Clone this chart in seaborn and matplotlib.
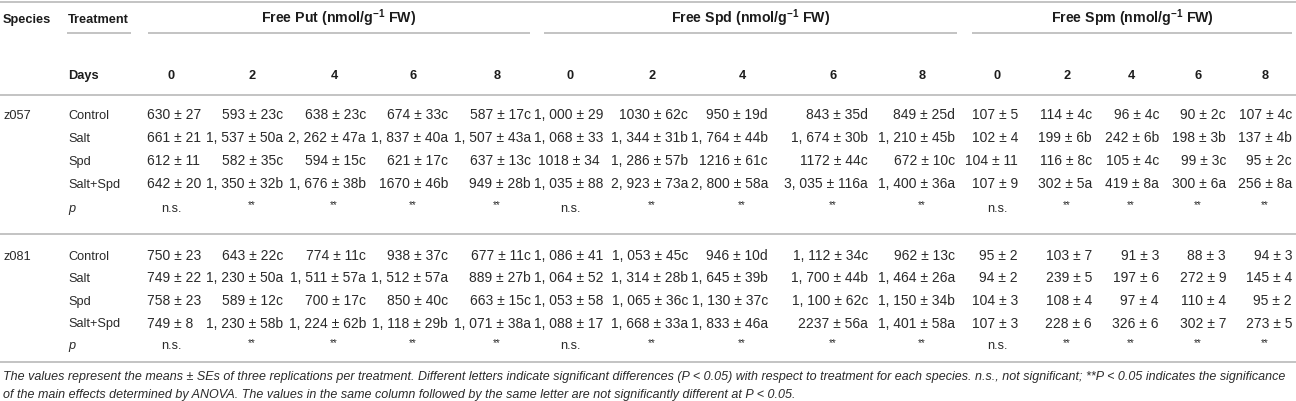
import matplotlib
matplotlib.use("Agg")
import matplotlib.pyplot as plt
import seaborn as sns
import pandas as pd

# ---------------- data ----------------
species = ["z057", "z081"]
treatments = ["Control", "Salt", "Spd", "Salt+Spd"]
days = ["0", "2", "4", "6", "8"]
groups = ["Free Put", "Free Spd", "Free Spm"]

z057_control = ["630 ± 27", "593 ± 23c", "638 ± 23c", "674 ± 33c", "587 ± 17c",
                "1,000 ± 29", "1030 ± 62c", "950 ± 19d", "843 ± 35d", "849 ± 25d",
                "107 ± 5", "114 ± 4c", "96 ± 4c", "90 ± 2c", "107 ± 4c"]
z057_salt = ["661 ± 21", "1,537 ± 50a", "2,262 ± 47a", "1,837 ± 40a", "1,507 ± 43a",
             "1,068 ± 33", "1,344 ± 31b", "1,764 ± 44b", "1,674 ± 30b", "1,210 ± 45b",
             "102 ± 4", "199 ± 6b", "242 ± 6b", "198 ± 3b", "137 ± 4b"]
z057_spd = ["612 ± 11", "582 ± 35c", "594 ± 15c", "621 ± 17c", "637 ± 13c",
            "1018 ± 34", "1,286 ± 57b", "1216 ± 61c", "1172 ± 44c", "672 ± 10c",
            "104 ± 11", "116 ± 8c", "105 ± 4c", "99 ± 3c", "95 ± 2c"]
z057_saltspd = ["642 ± 20", "1,350 ± 32b", "1,676 ± 38b", "1670 ± 46b", "949 ± 28b",
                "1,035 ± 88", "2,923 ± 73a", "2,800 ± 58a", "3,035 ± 116a", "1,400 ± 36a",
                "107 ± 9", "302 ± 5a", "419 ± 8a", "300 ± 6a", "256 ± 8a"]

z081_control = ["750 ± 23", "643 ± 22c", "774 ± 11c", "938 ± 37c", "677 ± 11c",
                "1,086 ± 41", "1,053 ± 45c", "946 ± 10d", "1,112 ± 34c", "962 ± 13c",
                "95 ± 2", "103 ± 7", "91 ± 3", "88 ± 3", "94 ± 3"]
z081_salt = ["749 ± 22", "1,230 ± 50a", "1,511 ± 57a", "1,512 ± 57a", "889 ± 27b",
             "1,064 ± 52", "1,314 ± 28b", "1,645 ± 39b", "1,700 ± 44b", "1,464 ± 26a",
             "94 ± 2", "239 ± 5", "197 ± 6", "272 ± 9", "145 ± 4"]
z081_spd = ["758 ± 23", "589 ± 12c", "700 ± 17c", "850 ± 40c", "663 ± 15c",
            "1,053 ± 58", "1,065 ± 36c", "1,130 ± 37c", "1,100 ± 62c", "1,150 ± 34b",
            "104 ± 3", "108 ± 4", "97 ± 4", "110 ± 4", "95 ± 2"]
z081_saltspd = ["749 ± 8", "1,230 ± 58b", "1,224 ± 62b", "1,118 ± 29b", "1,071 ± 38a",
                "1,088 ± 17", "1,668 ± 33a", "1,833 ± 46a", "2237 ± 56a", "1,401 ± 58a",
                "107 ± 3", "228 ± 6", "326 ± 6", "302 ± 7", "273 ± 5"]

p_z057 = ["n.s.", "**", "**", "**", "**"] * 3
p_z081 = ["n.s.", "**", "**", "**", "**"] * 3

footnote1 = ("The values represent the means ± SEs of three replications per treatment. "
             "Different letters indicate significant differences (P < 0.05) with respect to "
             "treatment for each species. n.s., not significant; **P < 0.05 indicates the significance")
footnote2 = ("of the main effects determined by ANOVA. The values in the same column followed "
             "by the same letter are not significantly different at P < 0.05.")

rows_by_species = {
    "z057": [z057_control, z057_salt, z057_spd, z057_saltspd, p_z057],
    "z081": [z081_control, z081_salt, z081_spd, z081_saltspd, p_z081],
}

# ---------------- style ----------------
sns.set_theme(style="white")
plt.rcParams["font.family"] = ["Liberation Sans", "DejaVu Sans"]
plt.rcParams["mathtext.fontset"] = "custom"
plt.rcParams["mathtext.rm"] = "Liberation Sans"
plt.rcParams["mathtext.bf"] = "Liberation Sans:bold"
plt.rcParams["mathtext.default"] = "bf"

W, H = 1296, 401
fig = plt.figure(figsize=(W / 100, H / 100), dpi=100)
ax = fig.add_axes([0, 0, 1, 1])
ax.set_xlim(0, W)
ax.set_ylim(H, 0)
ax.axis("off")
sns.despine(ax=ax, left=True, bottom=True)

FS = 9.2        # labels
NFS = 10.0      # numeric cells
GFS = 10.2      # group headers
BODY = "#2a2a2a"
HEAD = "#1c1c1c"
LINE = "#b9b9b9"
LW = 1.2

# layout (pixels)
col_center = [171, 252, 334, 413, 497, 570, 652, 742, 833, 922, 997, 1067, 1131, 1198, 1265]
col_right = [199, 283, 366, 448, 531, 607, 688, 768, 868, 955, 1018, 1092, 1159, 1226, 1292]
group_lines = [(148, 530), (544, 957), (972, 1292)]
x_species, x_treat = 3, 68
y_header, y_uline, y_days = 18, 33, 74
hlines = [2, 95, 234, 362]
group_row_y = {"z057": [114, 137, 160, 183, 207], "z081": [255, 277.5, 300, 322.5, 344.5]}


def put(x, y, s, ha="left", weight="normal", style="normal", size=FS, color=BODY):
    half_cap = 0.72 * size * 100 / 72 / 2
    ax.text(x, y + half_cap, s, ha=ha, va="baseline", fontsize=size, fontweight=weight,
            fontstyle=style, color=color)


for y in hlines:
    ax.plot([0, W], [y, y], color=LINE, lw=LW, solid_capstyle="butt")

# header
put(x_species, y_header, "Species", weight="bold", color=HEAD)
put(x_treat, y_header, "Treatment", weight="bold", color=HEAD)
ax.plot([67, 131], [y_uline, y_uline], color=LINE, lw=LW, solid_capstyle="butt")
for g, (x0, x1) in zip(groups, group_lines):
    put((x0 + x1) / 2, y_header, g + r" (nmol/g$^{-1}$ FW)", ha="center", weight="bold",
        size=GFS, color=HEAD)
    ax.plot([x0, x1], [y_uline, y_uline], color=LINE, lw=LW, solid_capstyle="butt")

put(x_treat, y_days, "Days", weight="bold", color=HEAD)
for i in range(15):
    put(col_center[i], y_days, days[i % 5], ha="center", weight="bold", color=HEAD)

# body
for sp in species:
    ys = group_row_y[sp]
    put(x_species, ys[0], sp)
    labels = treatments + ["p"]
    for r, (lab, vals) in enumerate(zip(labels, rows_by_species[sp])):
        y = ys[r]
        put(x_treat, y, lab, style="italic" if lab == "p" else "normal")
        for i, v in enumerate(vals):
            if lab == "p":
                if v == "**":
                    put(col_center[i], y - 2, v, ha="center", size=FS * 0.75)
                else:
                    put(col_center[i], y, v, ha="center")
                continue
            s = v.replace(",", ", ")
            if i == 0:
                put(147, y, s, ha="left", size=NFS)
            elif i == 5:
                put(569, y, s, ha="center", size=NFS)
            else:
                put(col_right[i], y, s, ha="right", size=NFS)

# footnote, scaled to span the table width
fig.canvas.draw()
r = fig.canvas.get_renderer()
t = ax.text(3, 380, footnote1, ha="left", va="baseline", fontsize=8, fontstyle="italic", color=BODY)
w = t.get_window_extent(renderer=r).width
fs_note = 8 * (1289 / w)
t.set_fontsize(fs_note)
ax.text(3, 398, footnote2, ha="left", va="baseline", fontsize=fs_note, fontstyle="italic", color=BODY)

fig.savefig("out.png", dpi=100)
